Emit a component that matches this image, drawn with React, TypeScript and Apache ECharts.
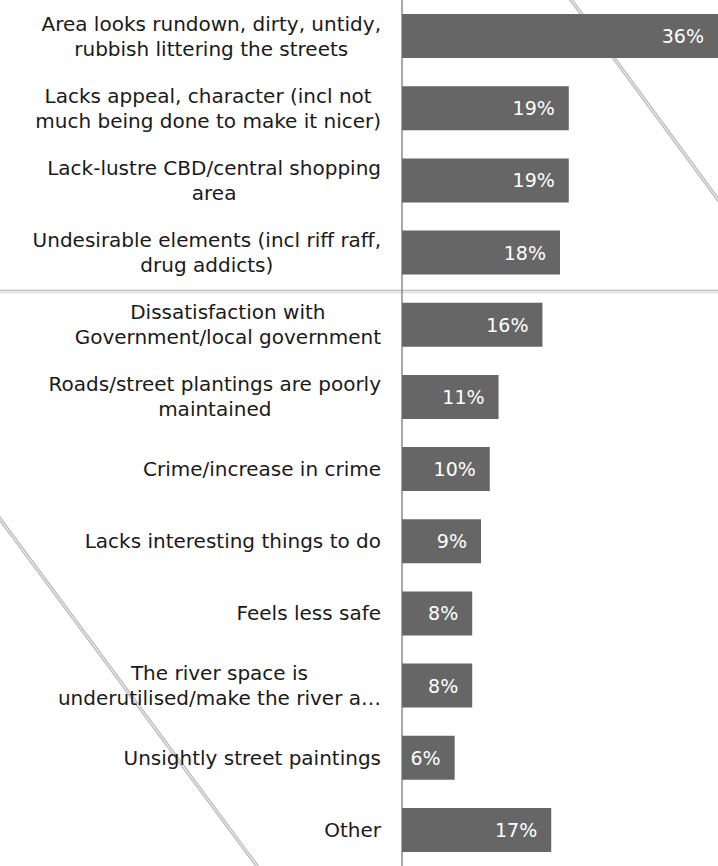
import React, { useEffect, useRef } from "react";
import * as echarts from "echarts";

const categories: string[] = [
  "Area looks rundown, dirty, untidy,\nrubbish littering the streets",
  "Lacks appeal, character (incl not\nmuch being done to make it nicer)",
  "Lack-lustre CBD/central shopping\narea",
  "Undesirable elements (incl riff raff,\ndrug addicts)",
  "Dissatisfaction with\nGovernment/local government",
  "Roads/street plantings are poorly\nmaintained",
  "Crime/increase in crime",
  "Lacks interesting things to do",
  "Feels less safe",
  "The river space is\nunderutilised/make the river a…",
  "Unsightly street paintings",
  "Other",
];
const values: number[] = [36, 19, 19, 18, 16, 11, 10, 9, 8, 8, 6, 17];

const FONT = '"DejaVu Sans", sans-serif';

export default function App() {
  const ref = useRef<HTMLDivElement>(null);
  useEffect(() => {
    document.body.style.margin = "0";
    if (!ref.current) return;
    const chart = echarts.init(ref.current, undefined, { renderer: "svg" });
    chart.setOption({
      animation: false,
      backgroundColor: "#ffffff",
      grid: { left: 402, right: -4, top: -3, bottom: -4, containLabel: false },
      xAxis: {
        type: "value",
        min: 0,
        max: 36,
        show: false,
      },
      yAxis: {
        type: "category",
        inverse: true,
        data: categories,
        axisLine: { show: true, lineStyle: { color: "#8c8c8c", width: 1.5 } },
        axisTick: { show: false },
        splitLine: { show: false },
        axisLabel: {
          margin: 21,
          align: "right",
          formatter: (v: string) =>
            v
              .split("\n")
              .map((l) => `{c|${l}}`)
              .join("\n"),
          rich: {
            c: {
              align: "center",
              fontFamily: FONT,
              fontSize: 20,
              lineHeight: 25,
              color: "#1a1a1a",
            },
          },
        },
      },
      series: [
        {
          type: "bar",
          data: values,
          barWidth: 44,
          itemStyle: { color: "#666666" },
          label: {
            show: true,
            position: "insideRight",
            distance: 14,
            formatter: "{c}%",
            color: "#ffffff",
            fontFamily: FONT,
            fontSize: 19,
          },
          z: 2,
        },
      ],
      graphic: [
        {
          type: "line",
          z: 0,
          silent: true,
          shape: { x1: 569, y1: -3, x2: 722, y2: 205 },
          style: { stroke: "#b8b8b8", lineWidth: 3.5 },
        },
        {
          type: "line",
          z: 0,
          silent: true,
          shape: { x1: 569, y1: -3, x2: 722, y2: 205 },
          style: { stroke: "#ececec", lineWidth: 1.2 },
        },
        {
          type: "line",
          z: 0,
          silent: true,
          shape: { x1: -3, y1: 515, x2: 260, y2: 870 },
          style: { stroke: "#b8b8b8", lineWidth: 3.5 },
        },
        {
          type: "line",
          z: 0,
          silent: true,
          shape: { x1: -3, y1: 515, x2: 260, y2: 870 },
          style: { stroke: "#ececec", lineWidth: 1.2 },
        },
        {
          type: "line",
          z: 0,
          silent: true,
          shape: { x1: 0, y1: 290.5, x2: 718, y2: 290.5 },
          style: { stroke: "#bdbdbd", lineWidth: 1.5 },
        },
        {
          type: "line",
          z: 0,
          silent: true,
          shape: { x1: 0, y1: 292.8, x2: 718, y2: 292.8 },
          style: { stroke: "#d6d6d6", lineWidth: 1 },
        },
      ],
    });
    return () => chart.dispose();
  }, []);
  return <div ref={ref} style={{ width: 718, height: 866 }} />;
}
